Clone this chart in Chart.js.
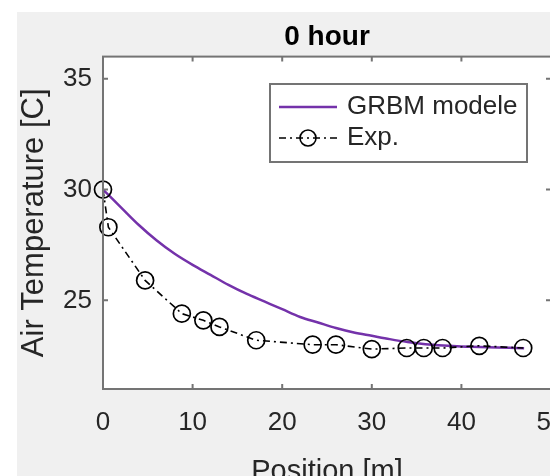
<!DOCTYPE html>
<html>
<head>
<meta charset="utf-8">
<script src="https://cdn.jsdelivr.net/npm/chart.js@4"></script>
<style>
  html, body { margin: 0; padding: 0; background: #fff; overflow: hidden; }
  #wrap { width: 600px; height: 500px; }
</style>
</head>
<body>
<div id="wrap"><canvas id="chart" width="600" height="500"></canvas></div>
<script>
const xExp = [0, 0.6, 4.7, 8.8, 11.2, 13.0, 17.1, 23.4, 26.0, 30.0, 33.9, 35.8, 37.9, 42.0, 46.9]
const yExp = [30.0, 28.3, 25.9, 24.4, 24.1, 23.8, 23.2, 23.0, 23.0, 22.8, 22.85, 22.85, 22.85, 22.95, 22.85]

const xModel = [0, 2, 4, 6, 8, 10, 12, 14, 16, 18, 20, 22, 24, 26, 28, 30, 32, 34, 36, 38, 40, 42, 44, 46, 47]
const yModel = [30.0, 29.2, 28.4, 27.7, 27.1, 26.6, 26.15, 25.7, 25.3, 24.95, 24.6, 24.25, 24.0, 23.75, 23.55,
                23.4, 23.25, 23.12, 23.02, 22.96, 22.92, 22.9, 22.87, 22.85, 22.84]

const xTicks = [0, 10, 20, 30, 40, 50]
const yTicks = [25, 30, 35]

const titleText  = "0 hour"
const xLabel     = "Position [m]"
const yLabel     = "Air Temperature [C]"
const seriesNames = ["GRBM modele", "Exp."]

const FONT   = "'Liberation Sans', Arial, Helvetica, sans-serif"
const PURPLE = "#7432aa"
const AXIS   = "#747474"
const TEXT   = "#262626"
const DASHDOT = [7, 4, 2, 4]

const pts = (xs, ys) => xs.map((x, i) => ({ x, y: ys[i] }))

// grey figure background + white axes area
const background = {
  id: "background",
  beforeDraw(chart) {
    const { ctx, chartArea: a, width, height } = chart
    ctx.save()
    ctx.fillStyle = "#fff"
    ctx.fillRect(0, 0, width, height)
    ctx.fillStyle = "#f0f0f0"
    ctx.fillRect(17, 12, width - 17, height - 12)
    ctx.fillStyle = "#fff"
    ctx.fillRect(a.left, a.top, a.right - a.left, a.bottom - a.top)
    ctx.restore()
  }
}

// MATLAB-style box with inward ticks on all four sides
const frame = {
  id: "frame",
  afterDatasetsDraw(chart) {
    const { ctx, chartArea: a, scales } = chart
    ctx.save()
    ctx.strokeStyle = AXIS
    ctx.lineWidth = 2
    ctx.strokeRect(a.left, a.top, a.right - a.left, a.bottom - a.top)
    ctx.beginPath()
    xTicks.forEach(v => {
      const px = scales.x.getPixelForValue(v)
      ctx.moveTo(px, a.bottom); ctx.lineTo(px, a.bottom - 5)
      ctx.moveTo(px, a.top);    ctx.lineTo(px, a.top + 5)
    })
    yTicks.forEach(v => {
      const py = scales.y.getPixelForValue(v)
      ctx.moveTo(a.left, py);  ctx.lineTo(a.left + 5, py)
      ctx.moveTo(a.right, py); ctx.lineTo(a.right - 5, py)
    })
    ctx.stroke()
    ctx.restore()
  }
}

// legend box in the upper right of the axes
const boxLegend = {
  id: "boxLegend",
  afterDraw(chart) {
    const { ctx } = chart
    const bx = 270, by = 84, bw = 257, bh = 78
    const row1 = 107, row2 = 138, x0 = 279, x1 = 337, tx = 347
    ctx.save()
    ctx.fillStyle = "#fff"
    ctx.fillRect(bx, by, bw, bh)
    ctx.strokeStyle = AXIS
    ctx.lineWidth = 2
    ctx.strokeRect(bx, by, bw, bh)

    ctx.strokeStyle = PURPLE
    ctx.lineWidth = 2.5
    ctx.beginPath(); ctx.moveTo(x0, row1); ctx.lineTo(x1, row1); ctx.stroke()

    ctx.strokeStyle = "#000"
    ctx.lineWidth = 1.6
    ctx.setLineDash(DASHDOT)
    ctx.beginPath(); ctx.moveTo(x0, row2); ctx.lineTo(x1, row2); ctx.stroke()
    ctx.setLineDash([])
    ctx.beginPath(); ctx.arc((x0 + x1) / 2, row2, 8, 0, Math.PI * 2); ctx.stroke()

    ctx.fillStyle = TEXT
    ctx.font = `26px ${FONT}`
    ctx.textBaseline = "middle"
    ctx.fillText(seriesNames[0], tx, row1)
    ctx.fillText(seriesNames[1], tx, row2)
    ctx.restore()
  }
}

new Chart(document.getElementById("chart"), {
  type: "scatter",
  data: {
    datasets: [
      {
        label: seriesNames[0],
        data: pts(xModel, yModel),
        showLine: true,
        borderColor: PURPLE,
        borderWidth: 2.5,
        pointRadius: 0,
        cubicInterpolationMode: "monotone",
        order: 1,
      },
      {
        label: seriesNames[1],
        data: pts(xExp, yExp),
        showLine: true,
        borderColor: "#000",
        borderWidth: 1.6,
        borderDash: DASHDOT,
        pointRadius: 8.5,
        pointBorderWidth: 1.7,
        pointBorderColor: "#000",
        pointBackgroundColor: "rgba(0,0,0,0)",
        clip: false,
        order: 0,
      }
    ]
  },
  options: {
    responsive: false,
    animation: false,
    events: [],
    layout: { padding: { left: 0, right: 49, top: 0, bottom: 0 } },
    plugins: {
      legend: { display: false },
      tooltip: { enabled: false },
      title: {
        display: true,
        text: titleText,
        fullSize: false,
        color: "#000",
        font: { family: FONT, size: 28, weight: "bold", lineHeight: 1.2 },
        padding: { top: 20, bottom: 3 }
      }
    },
    scales: {
      x: {
        type: "linear",
        min: 0,
        max: 50,
        afterBuildTicks: (s) => { s.ticks = xTicks.map(v => ({ value: v })) },
        afterFit: (s) => { s.height = 111 },
        grid: { display: false, drawTicks: false },
        border: { display: false },
        ticks: { color: TEXT, font: { family: FONT, size: 26 }, padding: 18, maxRotation: 0 },
        title: {
          display: true, text: xLabel, color: TEXT,
          font: { family: FONT, size: 29, lineHeight: 1 },
          padding: { top: 0, bottom: 14 }
        }
      },
      y: {
        type: "linear",
        min: 21,
        max: 36,
        afterBuildTicks: (s) => { s.ticks = yTicks.map(v => ({ value: v })) },
        afterFit: (s) => { s.width = 103 },
        grid: { display: false, drawTicks: false },
        border: { display: false },
        ticks: { color: TEXT, font: { family: FONT, size: 26 }, padding: 11 },
        title: {
          display: true, text: yLabel, color: TEXT,
          font: { family: FONT, size: 31, lineHeight: 1 },
          padding: { top: 19, bottom: 0 }
        }
      }
    }
  },
  plugins: [background, frame, boxLegend]
})
</script>
</body>
</html>
